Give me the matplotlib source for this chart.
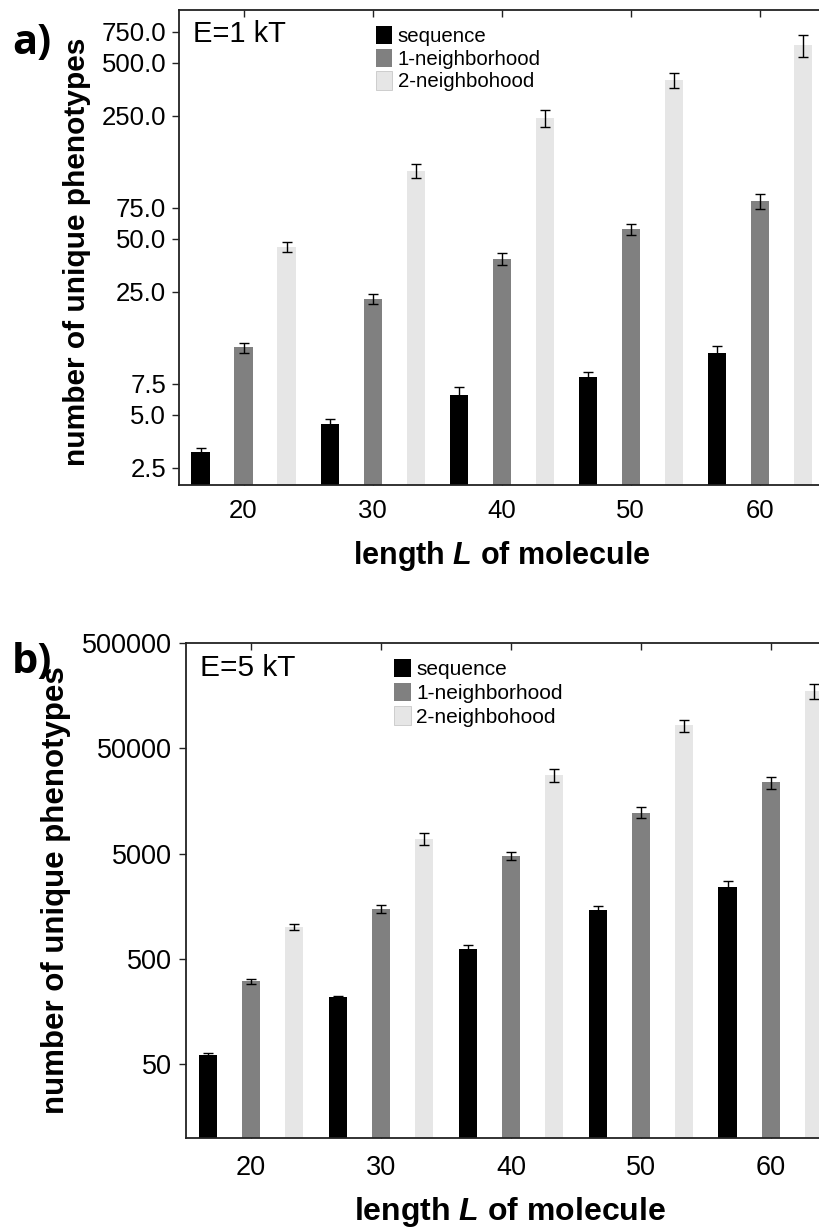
import matplotlib
matplotlib.use("Agg")
import matplotlib.pyplot as plt
import numpy as np
from matplotlib.patches import Patch

plt.rcParams['font.family'] = ['Liberation Sans', 'DejaVu Sans']
plt.rcParams['mathtext.fontset'] = 'custom'
plt.rcParams['mathtext.it'] = 'Liberation Sans:bold:italic'
plt.rcParams['mathtext.rm'] = 'Liberation Sans:bold'

# data
lengths = [20, 30, 40, 50, 60]
series_names = ["sequence", "1-neighborhood", "2-neighbohood"]
series_colors = ["#000000", "#808080", "#e6e6e6"]

# E = 1 kT
seq_1kT = [3.1, 4.45, 6.5, 8.2, 11.2]
seq_1kT_err = [0.16, 0.3, 0.7, 0.55, 1.2]
n1_1kT = [12.1, 22.8, 38.5, 57, 82]
n1_1kT_err = [0.8, 1.4, 3.0, 4.2, 8]
n2_1kT = [45, 122, 243, 400, 632]
n2_1kT_err = [3, 11, 28, 38, 88]
yticks_1kT = [2.5, 5.0, 7.5, 25.0, 50.0, 75.0, 250.0, 500.0, 750.0]
ytick_labels_1kT = ["2.5", "5.0", "7.5", "25.0", "50.0", "75.0", "250.0", "500.0", "750.0"]

# E = 5 kT
seq_5kT = [61, 217, 622, 1465, 2400]
seq_5kT_err = [2.7, 7, 56, 130, 340]
n1_5kT = [308, 1497, 4780, 12300, 23700]
n1_5kT_err = [17, 120, 380, 1430, 3300]
n2_5kT = [1008, 6950, 28000, 82800, 174700]
n2_5kT_err = [68, 890, 3900, 10600, 29000]
yticks_5kT = [50, 500, 5000, 50000, 500000]
ytick_labels_5kT = ["50", "500", "5000", "50000", "500000"]

offsets = [-10 / 3, 0, 10 / 3]
bar_w = 1.4
spine_col = "#222222"


def draw_panel(ax, values, errors, yticks, ylabels, ylim, xlim, title, fs_tick, fs_ylab, fs_xlab,
               fs_title, ypad, xpad):
    ax.set_yscale('log')
    x = np.array(lengths, dtype=float)
    for k in range(3):
        ax.bar(x + offsets[k], values[k], width=bar_w, color=series_colors[k], zorder=2)
        ax.errorbar(x + offsets[k], values[k], yerr=errors[k], fmt='none', ecolor='black',
                    elinewidth=1.0, capsize=3.4, capthick=1.0, zorder=3)
    ax.set_xlim(*xlim)
    ax.set_ylim(*ylim)
    ax.set_xticks(lengths)
    ax.set_xticklabels([str(v) for v in lengths])
    ax.set_yticks(yticks)
    ax.set_yticklabels(ylabels)
    ax.yaxis.set_minor_locator(matplotlib.ticker.NullLocator())
    ax.tick_params(axis='x', direction='in', top=True, bottom=True, length=5, width=1.0,
                   color=spine_col, labelsize=fs_tick, pad=xpad)
    ax.tick_params(axis='y', direction='out', left=True, right=False, length=5, width=1.0,
                   color=spine_col, labelsize=fs_tick, pad=ypad)
    for s in ['left', 'bottom', 'top']:
        ax.spines[s].set_color(spine_col)
        ax.spines[s].set_linewidth(1.3)
    ax.spines['right'].set_visible(False)
    ax.set_ylabel("number of unique phenotypes", fontsize=fs_ylab, fontweight='bold')
    ax.set_xlabel("length $L$ of molecule", fontsize=fs_xlab, fontweight='bold')
    ax.text(0.022, 0.95, title, transform=ax.transAxes, fontsize=fs_title, va='center', ha='left')


fig = plt.figure(figsize=(8.19, 12.27), dpi=100)

ax1 = fig.add_axes([179 / 819, 1 - 485 / 1227, 1 - 179 / 819, 475 / 1227])
draw_panel(ax1, [seq_1kT, n1_1kT, n2_1kT], [seq_1kT_err, n1_1kT_err, n2_1kT_err],
           yticks_1kT, ytick_labels_1kT, (2.0, 1000), (15.0, 64.6), "E=1 kT",
           18.5, 21.5, 22, 21, 4.3, 10)
ax1.yaxis.set_label_coords(-0.138, 0.49)
ax1.xaxis.set_label_coords(0.505, -0.113)

ax2 = fig.add_axes([186 / 819, 1 - 1138 / 1227, 1 - 186 / 819, 495 / 1227])
draw_panel(ax2, [seq_5kT, n1_5kT, n2_5kT], [seq_5kT_err, n1_5kT_err, n2_5kT_err],
           yticks_5kT, ytick_labels_5kT, (10, 500000), (15.0, 63.7), "E=5 kT",
           19.5, 22.5, 23, 21.5, 5, 12)
ax2.yaxis.set_label_coords(-0.182, 0.5)
ax2.xaxis.set_label_coords(0.512, -0.115)

handles = [Patch(facecolor=c, edgecolor='none') for c in series_colors]
handles[2] = Patch(facecolor=series_colors[2], edgecolor='#c8c8c8', linewidth=0.6)
for ax, anchor, fs, sp in [(ax1, (0.308, 0.966), 14.7, 0.12), (ax2, (0.329, 0.968), 15, 0.16)]:
    ax.legend(handles, series_names, loc='upper left', bbox_to_anchor=anchor, frameon=False,
              fontsize=fs, handlelength=0.8, handleheight=1.0, handletextpad=0.25,
              labelspacing=sp, borderpad=0, borderaxespad=0)

fig.text(12 / 819, 1 - 54 / 1227, "a)", fontsize=30, fontweight='bold', family='Open Sans', va='baseline')
fig.text(12 / 819, 1 - 673 / 1227, "b)", fontsize=30, fontweight='bold', family='Open Sans', va='baseline')

fig.savefig("out.png", dpi=100)
